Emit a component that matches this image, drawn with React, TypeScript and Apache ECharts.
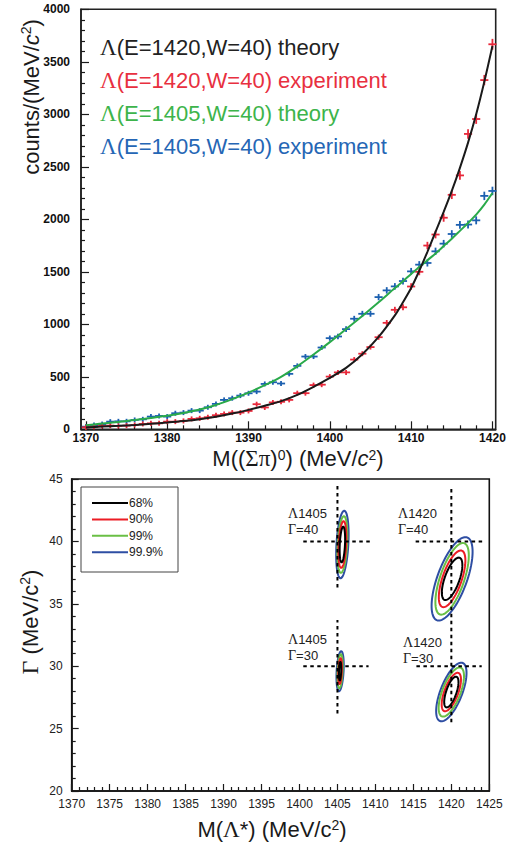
import React, { useEffect, useRef } from "react";
import * as echarts from "echarts";

const SANS = "'Liberation Sans', Arial, Helvetica, sans-serif";
const SERIF = "'Liberation Serif', 'Times New Roman', serif";

// ---------------- Top panel: invariant-mass spectra ----------------
const binMass = [
  1370, 1371, 1372, 1373, 1374, 1375, 1376, 1377, 1378, 1379,
  1380, 1381, 1382, 1383, 1384, 1385, 1386, 1387, 1388, 1389,
  1390, 1391, 1392, 1393, 1394, 1395, 1396, 1397, 1398, 1399,
  1400, 1401, 1402, 1403, 1404, 1405, 1406, 1407, 1408, 1409,
  1410, 1411, 1412, 1413, 1414, 1415, 1416, 1417, 1418, 1419, 1420,
];
const exp1420 = [
  19, 25, 32, 35, 32, 35, 41, 51, 57, 57,
  73, 73, 80, 99, 105, 115, 134, 146, 159, 159,
  175, 239, 208, 256, 262, 280, 344, 344, 421, 425,
  502, 542, 542, 664, 720, 783, 877, 1014, 1138, 1162,
  1360, 1500, 1750, 1855, 2015, 2233, 2418, 2813, 2955, 3326, 3667,
];
const exp1405 = [
  25, 40, 50, 73, 76, 76, 89, 95, 121, 127,
  121, 153, 159, 178, 178, 210, 242, 280, 296, 321,
  343, 359, 432, 448, 436, 528, 604, 693, 693, 779,
  868, 884, 954, 1053, 1100, 1100, 1259, 1323, 1361, 1412,
  1504, 1568, 1584, 1695, 1768, 1860, 1947, 1950, 1990, 2223, 2270,
];
const theoryMass = [
  1370, 1372, 1374, 1376, 1378, 1380, 1382, 1384, 1386, 1388,
  1390, 1392, 1394, 1396, 1398, 1400, 1402, 1404, 1406, 1408,
  1409, 1410, 1411, 1412, 1413, 1414, 1415, 1416, 1417, 1418, 1419, 1420,
];
const theory1420 = [
  18, 26, 33, 42, 52, 64, 78, 96, 120, 150,
  185, 225, 268, 328, 405, 490, 585, 715, 880, 1085,
  1210, 1345, 1510, 1690, 1880, 2070, 2270, 2490, 2730, 3000, 3310, 3650,
];
const theory1405 = [
  38, 56, 70, 88, 108, 128, 155, 188, 232, 288,
  350, 420, 500, 600, 712, 830, 955, 1080, 1210, 1345,
  1410, 1480, 1545, 1610, 1675, 1745, 1815, 1890, 1965, 2045, 2140, 2250,
];
const topLegendLabels = [
  "(E=1420,W=40) theory",
  "(E=1420,W=40) experiment",
  "(E=1405,W=40) theory",
  "(E=1405,W=40) experiment",
];
const topMassTicks = [1370, 1380, 1390, 1400, 1410, 1420];
const topMassMinorTicks = [
  1372, 1374, 1376, 1378, 1382, 1384, 1386, 1388, 1392, 1394, 1396, 1398,
  1402, 1404, 1406, 1408, 1412, 1414, 1416, 1418,
];

// ---------------- Bottom panel: fit contours ----------------
const confidenceLevels = ["68%", "90%", "99%", "99.9%"];
const fitStateMass = ["1405", "1420", "1405", "1420"];
const fitStateWidth = ["=40", "=40", "=30", "=30"];
const trueMass = [1405, 1420, 1405, 1420];
const trueGamma = [40, 40, 30, 30];
const fitMass = [1405.65, 1420.1, 1405.35, 1420.0];
const fitGamma = [39.75, 37.0, 29.6, 27.93];
const fitRho = [0.3, 0.65, 0.3, 0.65];
const fitSigmaMass = [
  [0.36, 0.52, 0.66, 0.82],
  [1.35, 1.75, 2.2, 2.7],
  [0.15, 0.24, 0.35, 0.48],
  [0.94, 1.27, 1.67, 2.0],
];
const fitSigmaGamma = [
  [1.43, 1.87, 2.27, 2.7],
  [1.7, 2.27, 2.87, 3.34],
  [0.74, 1.03, 1.36, 1.6],
  [1.23, 1.54, 1.97, 2.35],
];
const crossMassLo = [1400.5, 1415.3, 1400.5, 1415.4];
const crossMassHi = [1409.3, 1424.3, 1409.1, 1424.0];
const crossGammaLo = [36.3, 35.5, 26.2, 25.5];
const crossGammaHi = [44.6, 44.4, 33.7, 35.5];

// ---------------- styles ----------------
const COL_BLACK = "#1a1a1a";
const COL_RED = "#e8283a";
const COL_GREEN = "#2aaa4a";
const COL_BLUE = "#1c60b0";
const legendTextColors = ["#222222", "#e8303f", "#3db44b", "#2566b5"];
const levelColors = ["#000000", "#ec1c24", "#6abf45", "#2e4ea3"];
const annotPos = [
  [288, 513],
  [398, 513],
  [288, 639],
  [403, 642],
];

const crossRender = (color: string) => (params: any, api: any) => {
  const m = api.value(0);
  const n = api.value(1);
  const c = api.coord([m, n]);
  const l = api.coord([m - 0.5, n]);
  const r = api.coord([m + 0.5, n]);
  const e = Math.sqrt(Math.max(n, 0)) * 0.85;
  const t = api.coord([m, n + e]);
  const b = api.coord([m, n - e]);
  const half = Math.max((b[1] - t[1]) / 2, 2.5);
  return {
    type: "group",
    children: [
      { type: "line", shape: { x1: l[0], y1: c[1], x2: r[0], y2: c[1] }, style: { stroke: color, lineWidth: 1.8 } },
      { type: "line", shape: { x1: c[0], y1: c[1] - half, x2: c[0], y2: c[1] + half }, style: { stroke: color, lineWidth: 1.8 } },
    ],
  };
};

const ellipseRender = (params: any, api: any) => {
  const cx = api.value(0);
  const cy = api.value(1);
  const sx = api.value(2);
  const sy = api.value(3);
  const rho = api.value(4);
  const lvl = api.value(5);
  const s = Math.sqrt(1 - rho * rho);
  const pts: number[][] = [];
  for (let k = 0; k < 96; k++) {
    const t = (k / 96) * Math.PI * 2;
    pts.push(api.coord([cx + sx * Math.cos(t), cy + sy * (rho * Math.cos(t) + s * Math.sin(t))]));
  }
  return {
    type: "polygon",
    shape: { points: pts },
    style: { fill: "none", stroke: levelColors[lvl], lineWidth: 2 },
  };
};

const segRender = (params: any, api: any) => {
  const a = api.coord([api.value(0), api.value(1)]);
  const b = api.coord([api.value(2), api.value(3)]);
  return {
    type: "line",
    shape: { x1: a[0], y1: a[1], x2: b[0], y2: b[1] },
    style: { stroke: "#000", lineWidth: 2, lineDash: [3.5, 3.5] },
  };
};

function buildOption() {
  const fmt = (v: number) => String(v);
  const ellipseItems: number[][] = [];
  for (let f = 0; f < 4; f++) {
    for (let lvl = 3; lvl >= 0; lvl--) {
      ellipseItems.push([fitMass[f], fitGamma[f], fitSigmaMass[f][lvl], fitSigmaGamma[f][lvl], fitRho[f], lvl]);
    }
  }
  const segItems: number[][] = [];
  for (let f = 0; f < 4; f++) {
    segItems.push([crossMassLo[f], trueGamma[f], crossMassHi[f], trueGamma[f]]);
    segItems.push([trueMass[f], crossGammaLo[f], trueMass[f], crossGammaHi[f]]);
  }

  const sup = { fontFamily: SANS, fontSize: 14, verticalAlign: "top", lineHeight: 14 };
  const big = (color: string, extra: any = {}) => ({ fontFamily: SANS, fontSize: 22, fill: color, lineHeight: 24, ...extra });

  const elements: any[] = [];
  // top legend
  topLegendLabels.forEach((txt, i) => {
    elements.push({
      type: "text",
      x: 100,
      y: 47 + i * 33.2,
      style: {
        text: `{g|Λ}{t|${txt}}`,
        rich: {
          g: { fontFamily: SERIF, fontSize: 23, fill: legendTextColors[i] },
          t: { fontFamily: SANS, fontSize: 22, fill: legendTextColors[i] },
        },
        align: "left",
        verticalAlign: "middle",
      },
    });
  });
  // top y title
  elements.push({
    type: "text",
    x: 31,
    y: 97,
    rotation: Math.PI / 2,
    style: {
      text: "{t|counts/(MeV/}{i|c}{s|2}{t|)}",
      rich: { t: big("#1a1a1a"), i: big("#1a1a1a", { fontStyle: "italic" }), s: { ...sup, fill: "#1a1a1a" } },
      align: "center",
      verticalAlign: "middle",
    },
  });
  // top x title
  elements.push({
    type: "text",
    x: 298,
    y: 458,
    style: {
      text: "{t|M((}{g|Σπ}{t|)}{s|0}{t|) (MeV/}{i|c}{s|2}{t|)}",
      rich: {
        t: big("#1a1a1a", { lineHeight: 20 }),
        g: big("#1a1a1a", { fontFamily: SERIF, fontSize: 23, lineHeight: 20 }),
        i: big("#1a1a1a", { fontStyle: "italic", lineHeight: 20 }),
        s: { ...sup, fill: "#1a1a1a", lineHeight: 12 },
      },
      align: "center",
      verticalAlign: "middle",
    },
  });
  // bottom y title
  elements.push({
    type: "text",
    x: 30,
    y: 622,
    rotation: Math.PI / 2,
    style: {
      text: "{g|Γ}{t| (MeV/c}{s|2}{t|)}",
      rich: { t: big("#1a1a1a"), g: big("#1a1a1a", { fontFamily: SERIF, fontSize: 24 }), s: { ...sup, fill: "#1a1a1a" } },
      align: "center",
      verticalAlign: "middle",
    },
  });
  // bottom x title
  elements.push({
    type: "text",
    x: 272,
    y: 829,
    style: {
      text: "{t|M(}{g|Λ}{t|*) (MeV/c}{s|2}{t|)}",
      rich: {
        t: big("#1a1a1a", { lineHeight: 22 }),
        g: big("#1a1a1a", { fontFamily: SERIF, fontSize: 23, lineHeight: 22 }),
        s: { ...sup, fill: "#1a1a1a" },
      },
      align: "center",
      verticalAlign: "middle",
    },
  });
  // bottom legend box
  elements.push({
    type: "rect",
    shape: { x: 81, y: 487, width: 97, height: 85 },
    style: { fill: "#fff", stroke: "#444", lineWidth: 1 },
    z: 10,
  });
  confidenceLevels.forEach((lab, i) => {
    const y = 503 + i * 16.4;
    elements.push({
      type: "line",
      shape: { x1: 92, y1: y, x2: 128, y2: y },
      style: { stroke: levelColors[i], lineWidth: 2 },
      z: 11,
    });
    elements.push({
      type: "text",
      x: 129,
      y: y,
      style: { text: lab, fontFamily: SANS, fontSize: 12, fill: "#222", align: "left", verticalAlign: "middle" },
      z: 11,
    });
  });
  // annotations
  for (let f = 0; f < 4; f++) {
    const [ax, ay] = annotPos[f];
    const rich = {
      g: { fontFamily: SERIF, fontSize: 14, fill: "#222" },
      t: { fontFamily: SANS, fontSize: 13, fill: "#222" },
    };
    elements.push({
      type: "text",
      x: ax,
      y: ay,
      style: { text: `{g|Λ}{t|${fitStateMass[f]}}`, rich, align: "left", verticalAlign: "middle" },
    });
    elements.push({
      type: "text",
      x: ax,
      y: ay + 16.5,
      style: { text: `{g|Γ}{t|${fitStateWidth[f]}}`, rich, align: "left", verticalAlign: "middle" },
    });
  }

  const tickLine = { color: "#1a1a1a", width: 1.2 };
  return {
    animation: false,
    backgroundColor: "#ffffff",
    grid: [
      { left: 81, top: 9.3, width: 414.7, height: 420, show: true, borderColor: "#222", borderWidth: 1.6, containLabel: false, outerBoundsMode: "none" },
      { left: 71.7, top: 479, width: 417.6, height: 312, show: true, borderColor: "#111", borderWidth: 1.6, containLabel: false, outerBoundsMode: "none" },
    ],
    xAxis: [
      {
        gridIndex: 0,
        type: "value",
        min: 1369.4,
        max: 1420.4,
        position: "bottom",
        axisLine: { show: true, onZero: false, lineStyle: { color: "#222", width: 1.6 } },
        axisTick: { show: true, inside: true, length: 8, customValues: topMassTicks, lineStyle: tickLine },
        axisLabel: { customValues: topMassTicks, formatter: fmt, fontFamily: SANS, fontWeight: "bold", fontSize: 12, color: "#111", margin: 3 },
        splitLine: { show: false },
      },
      {
        gridIndex: 0,
        type: "value",
        min: 1369.4,
        max: 1420.4,
        position: "bottom",
        axisLine: { show: false, onZero: false },
        axisTick: { show: true, inside: true, length: 4, customValues: topMassMinorTicks, lineStyle: tickLine },
        axisLabel: { show: false },
        splitLine: { show: false },
      },
      {
        gridIndex: 1,
        type: "value",
        min: 1370,
        max: 1425,
        interval: 5,
        axisLine: { show: true, onZero: false, lineStyle: { color: "#111", width: 1.6 } },
        axisTick: { show: true, inside: true, length: 7, lineStyle: tickLine },
        minorTick: { show: true, splitNumber: 5, length: 4, lineStyle: tickLine },
        axisLabel: { formatter: fmt, fontFamily: SANS, fontSize: 12, color: "#222", margin: 7 },
        splitLine: { show: false },
        minorSplitLine: { show: false },
      },
    ],
    yAxis: [
      {
        gridIndex: 0,
        type: "value",
        min: 0,
        max: 4000,
        interval: 500,
        axisLine: { show: true, onZero: false, lineStyle: { color: "#222", width: 1.6 } },
        axisTick: { show: true, inside: true, length: 8, lineStyle: tickLine },
        minorTick: { show: true, splitNumber: 5, length: 4, lineStyle: tickLine },
        axisLabel: { formatter: fmt, fontFamily: SANS, fontWeight: "bold", fontSize: 12, color: "#111", margin: 11 },
        splitLine: { show: false },
        minorSplitLine: { show: false },
      },
      {
        gridIndex: 1,
        type: "value",
        min: 20,
        max: 45,
        interval: 5,
        axisLine: { show: true, onZero: false, lineStyle: { color: "#111", width: 1.6 } },
        axisTick: { show: true, inside: true, length: 7, lineStyle: tickLine },
        minorTick: { show: true, splitNumber: 5, length: 4, lineStyle: tickLine },
        axisLabel: { formatter: fmt, fontFamily: SANS, fontSize: 12, color: "#222", margin: 9 },
        splitLine: { show: false },
        minorSplitLine: { show: false },
      },
    ],
    series: [
      {
        type: "custom",
        name: "exp1405",
        xAxisIndex: 0,
        yAxisIndex: 0,
        data: binMass.map((m, i) => [m, exp1405[i]]),
        renderItem: crossRender(COL_BLUE),
        z: 2,
        silent: true,
      },
      {
        type: "custom",
        name: "exp1420",
        xAxisIndex: 0,
        yAxisIndex: 0,
        data: binMass.map((m, i) => [m, exp1420[i]]),
        renderItem: crossRender(COL_RED),
        z: 2,
        silent: true,
      },
      {
        type: "line",
        name: "theory1405",
        xAxisIndex: 0,
        yAxisIndex: 0,
        data: theoryMass.map((m, i) => [m, theory1405[i]]),
        smooth: 0.3,
        symbol: "none",
        showSymbol: false,
        lineStyle: { color: COL_GREEN, width: 2 },
        z: 3,
        silent: true,
      },
      {
        type: "line",
        name: "theory1420",
        xAxisIndex: 0,
        yAxisIndex: 0,
        data: theoryMass.map((m, i) => [m, theory1420[i]]),
        smooth: 0.3,
        symbol: "none",
        showSymbol: false,
        lineStyle: { color: COL_BLACK, width: 2 },
        z: 3,
        silent: true,
      },
      {
        type: "custom",
        name: "contours",
        xAxisIndex: 2,
        yAxisIndex: 1,
        data: ellipseItems,
        renderItem: ellipseRender,
        z: 3,
        silent: true,
      },
      {
        type: "custom",
        name: "truth",
        xAxisIndex: 2,
        yAxisIndex: 1,
        data: segItems,
        renderItem: segRender,
        z: 4,
        silent: true,
      },
    ],
    graphic: { elements },
  };
}

export default function App() {
  const ref = useRef<HTMLDivElement | null>(null);
  useEffect(() => {
    document.body.style.margin = "0";
    if (!ref.current) return;
    const chart = echarts.init(ref.current, null, { renderer: "svg" });
    chart.setOption(buildOption() as any);
    return () => {
      chart.dispose();
    };
  }, []);
  return <div ref={ref} style={{ width: 531, height: 843, background: "#fff" }} />;
}
